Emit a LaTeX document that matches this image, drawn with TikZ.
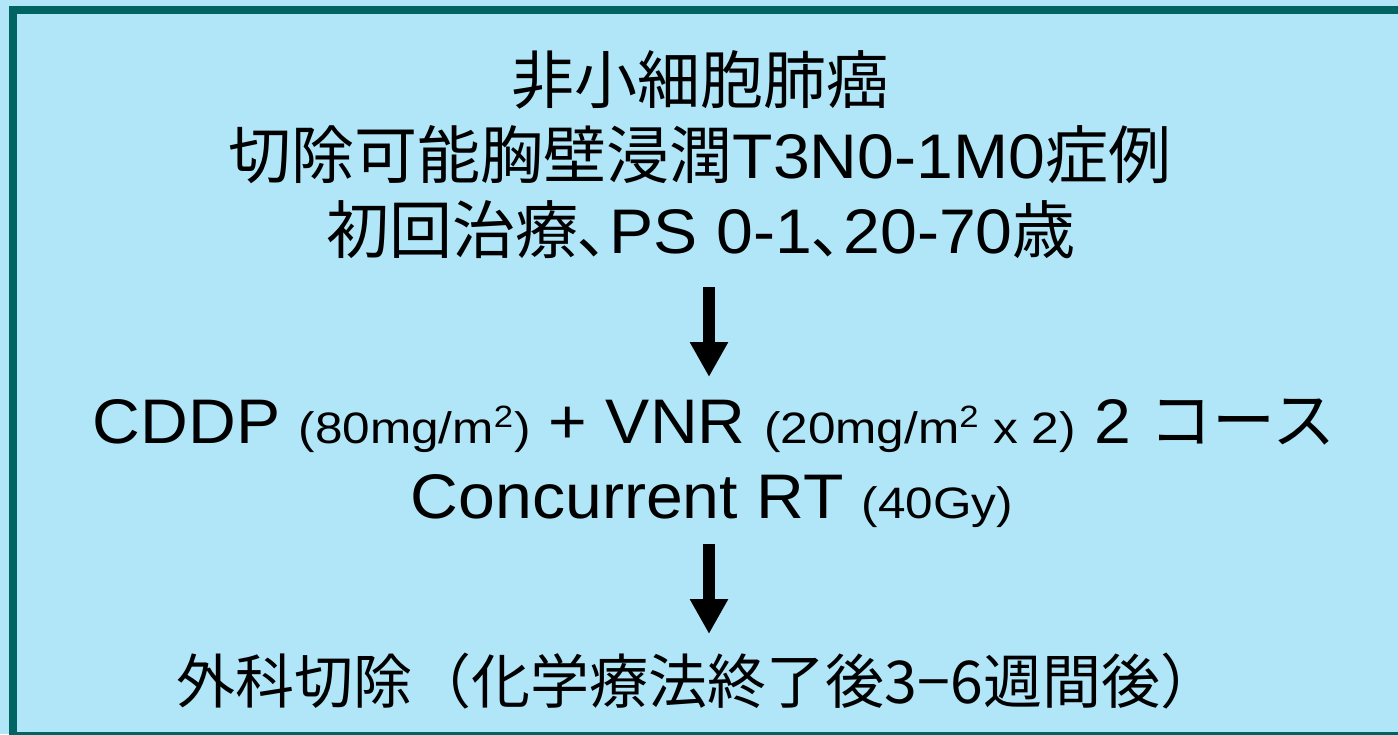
\documentclass[tikz,border=0pt]{standalone}
\usepackage{fontspec}
\setmainfont[FakeStretch=1.05]{Liberation Sans}
\newfontfamily\smlat[FakeStretch=1.125]{Liberation Sans}
\newfontfamily\cjk{Noto Sans CJK JP}
\usetikzlibrary{arrows.meta}
\definecolor{bgblue}{RGB}{176,230,248}
\definecolor{framegreen}{RGB}{0,100,98}
\newcommand\bigtxt{\fontsize{31.5pt}{37.5pt}\selectfont}
\newcommand\smtxt{\smlat\fontsize{22pt}{26pt}\selectfont}
\newcommand\lasttxt{\fontsize{29.5pt}{35pt}\selectfont}
\newcommand\tou{{\cjk ､}}
\begin{document}
\begin{tikzpicture}[x=0.5pt,y=-0.5pt,
  txt/.style={anchor=base, inner sep=0pt, text=black},
  blockarrow/.style={line width=6pt, black, -{Triangle[width=18pt,length=17.5pt]}}]
\clip (0,0) rectangle (1398,734);
\fill[bgblue] (0,0) rectangle (1398,734);
\draw[framegreen, line width=4pt] (13,10) rectangle (1412,736);
\node[txt] (l1) at (700,103) {\bigtxt\cjk 非小細胞肺癌};
\node[txt] (l2) at (700,178) {\bigtxt{\cjk 切除可能胸壁浸潤}T3N0-1M0{\cjk 症例}};
\node[txt] (l3) at (701,253) {\bigtxt{\cjk 初回治療}\tou PS 0-1\tou 20-70{\cjk 歳}};
\node[txt] (l4) at (714,443) {\bigtxt CDDP {\smtxt (80mg/m\textsuperscript{2})} + VNR {\smtxt (20mg/m\textsuperscript{2} x 2)} 2 {\cjk コース}};
\node[txt] (l5) at (712,518) {\bigtxt Concurrent RT {\smtxt (40Gy)}};
\node[txt] (l6) at (698,703) {\lasttxt\cjk 外科切除（化学療法終了後3−6週間後）};
\coordinate (a1s) at (709,287);
\coordinate (a1e) at (709,377);
\coordinate (a2s) at (709,544);
\coordinate (a2e) at (709,634);
\draw[blockarrow] (a1s) -- (a1e);
\draw[blockarrow] (a2s) -- (a2e);
\end{tikzpicture}
\end{document}
